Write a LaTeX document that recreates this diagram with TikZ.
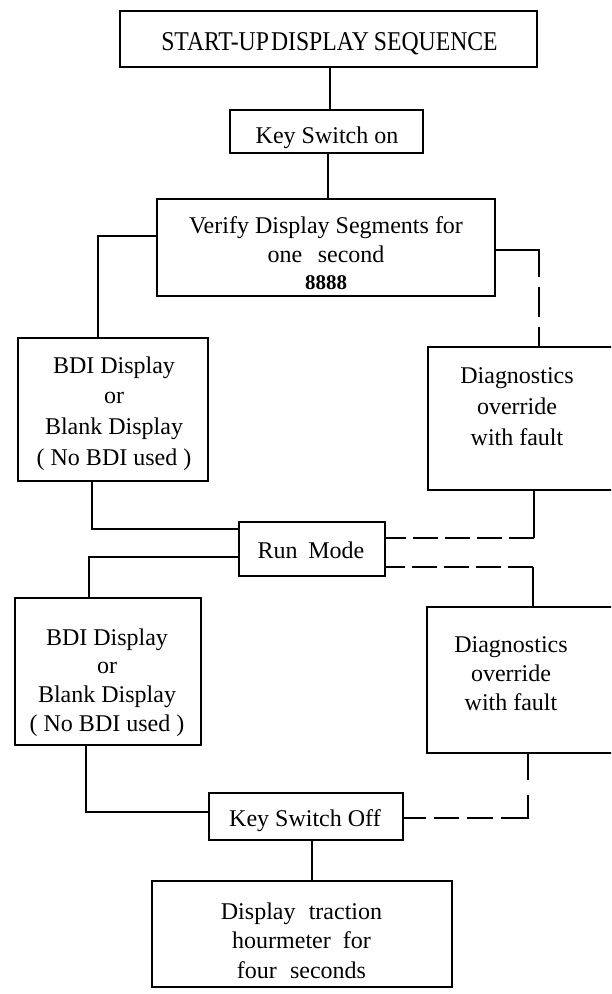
\documentclass[tikz,border=0pt]{standalone}
\usepackage{fontspec}
\setmainfont{Liberation Serif}
\begin{document}
\begin{tikzpicture}[x=1pt, y=-1pt,
  box/.style={draw, line width=1.1pt, inner sep=0pt},
  txt/.style={inner sep=0pt, align=center, font=\fontsize{24}{29}\selectfont},
  wire/.style={line width=1.1pt},
  dwire/.style={line width=1.8pt, dash pattern=on 25pt off 7pt},
]
\useasboundingbox (0,0) rectangle (611,994);
\clip (0,0) rectangle (611,994);

% frames of the steps
\node[box, minimum width=417pt, minimum height=56pt]  (title)  at (328.5,39)  {};
\node[box, minimum width=193pt, minimum height=43pt]  (keyon)  at (326.5,131.5) {};
\node[box, minimum width=338pt, minimum height=97pt]  (verify) at (326,247.5) {};
\node[box, minimum width=190pt, minimum height=143pt] (bdiA)   at (113,409.5) {};
\node[box, minimum width=186pt, minimum height=143pt] (diagA)  at (521,418.5) {};
\node[box, minimum width=146pt, minimum height=54pt]  (run)    at (312,549)   {};
\node[box, minimum width=186pt, minimum height=147pt] (bdiB)   at (108,671.5) {};
\node[box, minimum width=187pt, minimum height=146pt] (diagB)  at (520.5,680) {};
\node[box, minimum width=194pt, minimum height=47pt]  (keyoff) at (306,816.5) {};
\node[box, minimum width=300pt, minimum height=106pt] (hours)  at (302,934)   {};

% texts of the steps
\node[txt, font=\fontsize{23}{23}\selectfont] (titleT) at (329.5,44)
  {\scalebox{1.03}[1.18]{START-UP\hspace{2pt}DISPLAY\hspace{5pt}SEQUENCE}};
\node[txt] (keyonT) at (327,137.5) {Key Switch on};
\node[txt] (verifyT) at (326,253)
  {Verify Display Segments for\\one\hspace{0.65em}second\\[-1.5pt]{\fontsize{21}{21}\selectfont\bfseries 8888}};
\node[txt, font=\fontsize{24}{30.7}\selectfont] (bdiAT) at (114,413.5)
  {BDI Display\\or\\Blank Display\\( No BDI used )};
\node[txt, font=\fontsize{24}{31}\selectfont] (diagAT) at (517,407)
  {Diagnostics\\override\\with fault};
\node[txt] (runT) at (311,550) {Run\hspace{0.45em}Mode};
\node[txt, font=\fontsize{24}{28.7}\selectfont] (bdiBT) at (107,682.5)
  {BDI Display\\or\\Blank Display\\( No BDI used )};
\node[txt] (diagBT) at (511,674) {Diagnostics\\override\\with fault};
\node[txt] (keyoffT) at (305,820.5) {Key Switch Off};
\node[txt, font=\fontsize{24}{29.5}\selectfont] (hoursT) at (301.5,940.3)
  {Display\hspace{0.55em}traction\\hourmeter\hspace{0.5em}for\\four\hspace{0.55em}seconds};

% main trunk
\coordinate (t1) at ([xshift=1.5pt]title.south);
\draw[wire] (t1) -- (t1 |- keyon.north);
\coordinate (k0) at ([xshift=1.5pt]keyon.south);
\draw[wire] (k0) -- (k0 |- verify.north);

% left branches
\coordinate (vL) at ([yshift=11.5pt]verify.west);
\draw[wire] (vL) -| ([xshift=-15pt]bdiA.north);
\draw[wire] ([xshift=-21pt]bdiA.south) |- ([yshift=20pt]run.west);
\draw[wire] ([yshift=-8pt]run.west) -| ([xshift=-19pt]bdiB.north);
\draw[wire] ([xshift=-22pt]bdiB.south) |- ([yshift=4.5pt]keyoff.west);
\coordinate (k1) at ([xshift=6pt]keyoff.south);
\draw[wire] (k1) -- (k1 |- hours.north);

% right branches (fault paths)
\coordinate (vR) at ([yshift=-2.5pt]verify.east);
\draw[dwire, dash pattern=on 70pt off 10pt on 30pt off 10pt on 40pt]
  (vR) -| ([xshift=18pt]diagA.north);

\coordinate (dA) at ([xshift=13pt]diagA.south);
\coordinate (rU) at ([yshift=11pt]run.east);
\draw[wire, line width=1.6pt] (dA) -- (dA |- rU);
\draw[dwire] (dA |- rU) -- (rU);

\coordinate (rD) at ([yshift=-18pt]run.east);
\coordinate (dB) at ([xshift=12.5pt]diagB.north);
\draw[dwire] (rD -| dB) -- (rD);
\draw[wire] (rD -| dB) -- (dB);

\coordinate (dBs) at ([xshift=7.5pt]diagB.south);
\coordinate (kR) at ([yshift=-1.5pt]keyoff.east);
\draw[dwire, dash pattern=on 26pt off 15pt on 50pt off 8pt on 26pt off 8pt on 25pt off 8pt on 30pt]
  (dBs) |- (kR);
\end{tikzpicture}
\end{document}
